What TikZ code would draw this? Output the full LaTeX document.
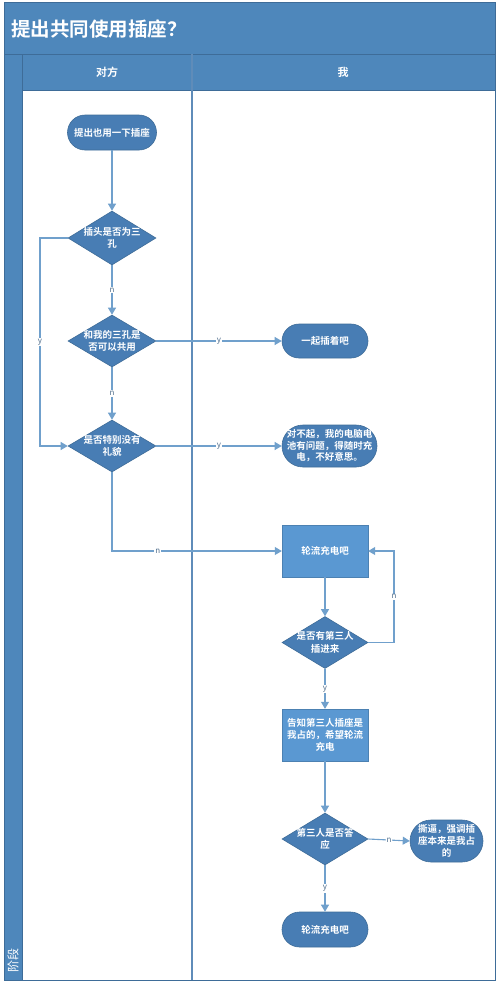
\documentclass[tikz,border=0pt]{standalone}
\usepackage{fontspec}
\setmainfont{Noto Sans CJK SC}[BoldFont={Noto Sans CJK SC Bold}]
\usetikzlibrary{arrows.meta,shapes.geometric}
\definecolor{hdr}{RGB}{78,135,187}
\definecolor{edgec}{RGB}{62,108,152}
\definecolor{diac}{RGB}{72,125,180}
\definecolor{boxc}{RGB}{90,152,210}
\definecolor{connc}{RGB}{112,160,204}
\definecolor{lblc}{RGB}{80,110,140}
\definecolor{lanec}{RGB}{95,140,185}
\tikzset{
  txt/.style={text=white, font=\fontsize{9.5}{12.5}\selectfont\bfseries, align=center, inner sep=0pt},
  dia/.style={shape=diamond, fill=diac, draw=edgec, line width=0.6pt, inner sep=0pt, minimum width=88pt, minimum height=54pt},
  rnd/.style={shape=rectangle, fill=diac, draw=edgec, line width=0.6pt, inner sep=0pt},
  boxn/.style={shape=rectangle, fill=boxc, draw=boxc!85!black, line width=0.4pt, inner sep=0pt, minimum width=86pt, minimum height=52pt},
  conn/.style={draw=connc, line width=1.1pt, -{Triangle[width=8pt,length=7pt]}},
  lbl/.style={fill=white, text=lblc, font=\fontsize{8}{9}\selectfont, inner sep=1pt},
}
\begin{document}
\begin{tikzpicture}[x=1pt,y=-1pt]
\useasboundingbox (0,0) rectangle (500,989);
\fill[white] (0,0) rectangle (500,989);
% title and headers
\fill[hdr] (4,2) rectangle (495,90);
\fill[hdr] (4,54) rectangle (22,980);
\draw[edgec, line width=0.8pt] (4,2) rectangle (495,980);
\draw[edgec, line width=0.8pt] (4,54) -- (495,54);
\draw[edgec, line width=0.8pt] (22,90) -- (495,90);
\draw[edgec, line width=0.8pt] (22,54) -- (22,980);
\draw[lanec, line width=1.4pt] (192,54) -- (192,980);
\node[anchor=west, text=white, font=\fontsize{19.5}{21}\selectfont\bfseries, inner sep=0pt] (title) at (11,29) {提出共同使用插座？};
\node[text=white, font=\fontsize{11}{12}\selectfont\bfseries, inner sep=0pt] (h1) at (107,72) {对方};
\node[text=white, font=\fontsize{11}{12}\selectfont\bfseries, inner sep=0pt] (h2) at (343,72) {我};
\node[text=white, font=\fontsize{12}{13}\selectfont, inner sep=0pt, rotate=90] (phase) at (13,960) {阶段};

% lane 1
\node[rnd, minimum width=89pt, minimum height=35pt, rounded corners=17.5pt] (s1) at (112,132.5) {};
\node[txt] (s1t) at (s1) {提出也用一下插座};
\node[dia] (d1) at (112,238) {};
\node[txt] (d1t) at (d1) {插头是否为三\\孔};
\node[dia, minimum height=52pt] (d2) at (112,341) {};
\node[txt] (d2t) at (d2) {和我的三孔是\\否可以共用};
\node[dia, minimum height=52pt] (d3) at (112,446) {};
\node[txt] (d3t) at (d3) {是否特别没有\\礼貌};

% lane 2
\node[rnd, minimum width=86pt, minimum height=34pt, rounded corners=17pt] (r1) at (325,341) {};
\node[txt] (r1t) at (r1) {一起插着吧};
\node[rnd, minimum width=95pt, minimum height=42pt, rounded corners=21pt] (r2) at (329.5,446) {};
\node[txt, font=\fontsize{9.5}{11.5}\selectfont\bfseries] (r2t) at (r2) {对不起，我的电脑电\\池有问题，得随时充\\电，不好意思。};
\node[boxn] (b1) at (325,551) {};
\node[txt] (b1t) at (b1) {轮流充电吧};
\node[dia, minimum width=86pt, minimum height=52pt] (d4) at (325,642.5) {};
\node[txt] (d4t) at (d4) {是否有第三人\\插进来};
\node[boxn] (b2) at (325,735) {};
\node[txt, font=\fontsize{9.5}{11.7}\selectfont\bfseries] (b2t) at (b2) {告知第三人插座是\\我占的，希望轮流\\充电};
\node[dia, minimum width=86pt, minimum height=52pt] (d5) at (325,839) {};
\node[txt] (d5t) at (d5) {第三人是否答\\应};
\node[rnd, minimum width=73pt, minimum height=42pt, rounded corners=21pt] (r3) at (446.5,841) {};
\node[txt, font=\fontsize{9.5}{11.7}\selectfont\bfseries] (r3t) at (r3) {撕逼，强调插\\座本来是我占\\的};
\node[rnd, minimum width=86pt, minimum height=35pt, rounded corners=17.5pt] (r4) at (325,929.5) {};
\node[txt] (r4t) at (r4) {轮流充电吧};

% helper coordinates
\coordinate (ya) at (40,238);
\coordinate (na) at (394,642.5);

% connectors
\draw[conn] (s1) -- (d1);
\draw[conn] (d1) -- node[lbl] (ln1) {n} (d2);
\draw[conn] (d2) -- node[lbl] (ln2) {n} (d3);
\draw[conn] (d1.west) -- (ya) |- node[lbl, pos=0.25] (ly1) {y} (d3.west);
\draw[conn] (d2.east) -- node[lbl] (ly2) {y} (r1.west);
\draw[conn] (d3.east) -- node[lbl] (ly3) {y} (r2.west |- d3.east);
\draw[conn] (d3.south) |- node[lbl, pos=0.635] (ln3) {n} (b1.west);
\draw[conn] (b1) -- (d4);
\draw[conn] (d4.east) -- (na) |- node[lbl, pos=0.25] (ln4) {n} (b1.east);
\draw[conn] (d4) -- node[lbl] (ly4) {y} (b2);
\draw[conn] (b2) -- (d5);
\draw[conn] (d5.east) -- node[lbl] (ln5) {n} (r3.west);
\draw[conn] (d5) -- node[lbl] (ly5) {y} (r4);
\end{tikzpicture}
\end{document}
